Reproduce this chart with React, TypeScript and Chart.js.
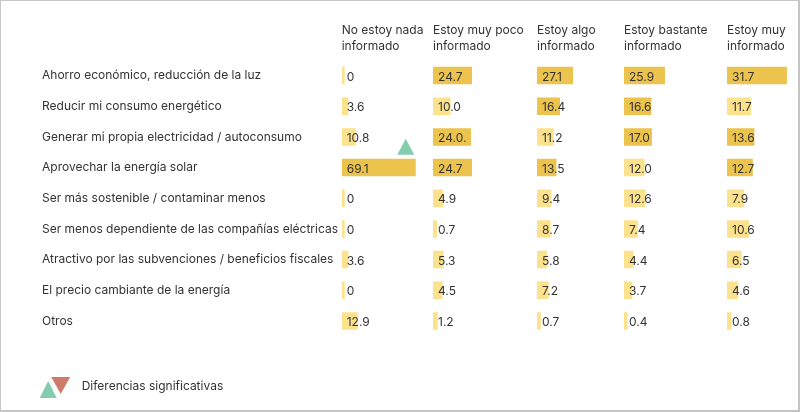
import React, { useEffect, useRef } from 'react';
import { Chart, registerables } from 'chart.js';

Chart.register(...registerables);

// ---------- DATA ----------
const categories = [
  'Ahorro económico, reducción de la luz',
  'Reducir mi consumo energético',
  'Generar mi propia electricidad / autoconsumo',
  'Aprovechar la energía solar',
  'Ser más sostenible / contaminar menos',
  'Ser menos dependiente de las compañías eléctricas',
  'Atractivo por las subvenciones / beneficios fiscales',
  'El precio cambiante de la energía',
  'Otros',
];

const columnHeaders = [
  ['No estoy nada', 'informado'],
  ['Estoy muy poco', 'informado'],
  ['Estoy algo', 'informado'],
  ['Estoy bastante', 'informado'],
  ['Estoy muy', 'informado'],
];

const noEstoyNadaInformado = [0, 3.6, 10.8, 69.1, 0, 0, 3.6, 0, 12.9];
const estoyMuyPocoInformado = [24.7, 10.0, 24.0, 24.7, 4.9, 0.7, 5.3, 4.5, 1.2];
const estoyAlgoInformado = [27.1, 16.4, 11.2, 13.5, 9.4, 8.7, 5.8, 7.2, 0.7];
const estoyBastanteInformado = [25.9, 16.6, 17.0, 12.0, 12.6, 7.4, 4.4, 3.7, 0.4];
const estoyMuyInformado = [31.7, 11.7, 13.6, 12.7, 7.9, 10.6, 6.5, 4.6, 0.8];

// highlighted (darker) cells per column
const highlightNoNada = [false, false, false, true, false, false, false, false, false];
const highlightMuyPoco = [true, false, true, true, false, false, false, false, false];
const highlightAlgo = [true, true, false, true, false, false, false, false, false];
const highlightBastante = [true, true, true, false, false, false, false, false, false];
const highlightMuy = [true, false, true, true, false, false, false, false, false];

// label text exactly as printed where it differs from the number
const labelOverrides: Record<string, string> = { '1-2': '24.0.' };

// significance markers (column index, row index, direction)
const significanceMarkers = [{ column: 0, row: 3, direction: 'up' }];
const legendText = 'Diferencias significativas';

// per-column scale settings
const scaleMins = [-2.92, -2.06, -2.46, -2.04, -1.67];
const scaleMaxs = [85.9, 69.3, 68.96, 68.2, 36.2];
const columnWeights = [91.3, 104, 87, 103, 68];

const columnValues = [
  noEstoyNadaInformado,
  estoyMuyPocoInformado,
  estoyAlgoInformado,
  estoyBastanteInformado,
  estoyMuyInformado,
];
const columnHighlights = [highlightNoNada, highlightMuyPoco, highlightAlgo, highlightBastante, highlightMuy];

// ---------- STYLE ----------
const FONT = 'Inter, "Noto Sans", sans-serif';
const TEXT = '#333333';
const DARK = '#EBC34D';
const LIGHT = '#FDE28E';
const GREEN = '#82CEAC';
const RED = '#CF7B6C';

function fmt(v: number, c: number, r: number) {
  const key = `${c}-${r}`;
  if (labelOverrides[key]) return labelOverrides[key];
  return v === 0 ? '0' : v.toFixed(1);
}

function triangle(ctx: CanvasRenderingContext2D, cx: number, baseY: number, w: number, h: number, up: boolean, color: string) {
  ctx.beginPath();
  ctx.moveTo(cx - w / 2, baseY);
  ctx.lineTo(cx + w / 2, baseY);
  ctx.lineTo(cx, up ? baseY - h : baseY + h);
  ctx.closePath();
  ctx.fillStyle = color;
  ctx.fill();
}

const overlayPlugin = {
  id: 'overlay',
  afterDatasetsDraw(chart: any) {
    const ctx: CanvasRenderingContext2D = chart.ctx;
    ctx.save();
    ctx.font = `12px ${FONT}`;
    ctx.textAlign = 'left';
    ctx.textBaseline = 'middle';
    columnValues.forEach((vals, c) => {
      const meta = chart.getDatasetMeta(c);
      meta.data.forEach((bar: any, r: number) => {
        const left = Math.min(bar.base, bar.x);
        ctx.fillStyle = TEXT;
        ctx.fillText(fmt(vals[r], c, r), left + 5, bar.y + 1.5);
      });
    });
    // significance markers
    significanceMarkers.forEach((m) => {
      const bar: any = chart.getDatasetMeta(m.column).data[m.row];
      const top = bar.y - bar.height / 2;
      const up = m.direction === 'up';
      triangle(ctx, bar.x - 10, top - 4, 17, 16, up, up ? GREEN : RED);
    });
    // legend
    const lx = chart.chartArea.left - 300;
    const ly = 386;
    triangle(ctx, lx + 6.5, ly + 12, 17, 17, true, GREEN);
    triangle(ctx, lx + 19, ly - 9, 19, 17, false, RED);
    ctx.fillStyle = TEXT;
    ctx.font = `12px ${FONT}`;
    ctx.textBaseline = 'middle';
    ctx.fillText(legendText, lx + 40, ly);
    ctx.restore();
  },
};

export default function App() {
  const canvasRef = useRef<HTMLCanvasElement | null>(null);

  useEffect(() => {
    document.body.style.margin = '0';
    const canvas = canvasRef.current;
    if (!canvas) return;

    const datasets = columnValues.map((vals, c) => ({
      label: columnHeaders[c].join(' '),
      data: vals,
      xAxisID: `x${c}`,
      base: scaleMins[c],
      grouped: false,
      backgroundColor: columnHighlights[c].map((h) => (h ? DARK : LIGHT)),
      borderWidth: 0,
      categoryPercentage: 1,
      barPercentage: 0.57,
    }));

    const scales: any = {
      y: {
        type: 'category',
        position: 'left',
        grid: { display: false, drawTicks: false },
        border: { display: false },
        ticks: {
          crossAlign: 'far',
          padding: 0,
          color: TEXT,
          font: { family: FONT, size: 12 },
        },
        afterFit: (s: any) => {
          s.width = 299.7;
        },
      },
    };
    columnValues.forEach((_, c) => {
      scales[`x${c}`] = {
        type: 'linear',
        axis: 'x',
        position: 'top',
        stack: 'columns',
        stackWeight: columnWeights[c],
        weight: columnValues.length - c,
        min: scaleMins[c],
        max: scaleMaxs[c],
        grid: { display: false, drawTicks: false },
        border: { display: false },
        ticks: { display: false },
        title: {
          display: true,
          text: columnHeaders[c],
          align: 'start',
          color: TEXT,
          font: { family: FONT, size: 12, lineHeight: 16 / 12 },
          padding: { top: 8, bottom: 6.2 },
        },
      };
    });

    const chart = new Chart(canvas, {
      type: 'bar',
      data: { labels: categories, datasets },
      options: {
        indexAxis: 'y',
        animation: false,
        responsive: false,
        maintainAspectRatio: false,
        layout: { padding: { left: 42, right: 5, top: 14, bottom: 75.7 } },
        plugins: { legend: { display: false }, tooltip: { enabled: false } },
        scales,
      },
      plugins: [overlayPlugin],
    } as any);

    return () => chart.destroy();
  }, []);

  return (
    <div style={{ position: 'relative', width: 800, height: 412, background: '#fff' }}>
      <canvas ref={canvasRef} width={800} height={412} style={{ display: 'block', width: 800, height: 412 }} />
      <div
        style={{
          position: 'absolute',
          inset: 0,
          boxSizing: 'border-box',
          borderTop: '1px solid #c8c8c8',
          borderLeft: '1px solid #c8c8c8',
          borderRight: '2px solid #c4c4c4',
          borderBottom: '2px solid #c4c4c4',
          pointerEvents: 'none',
        }}
      />
    </div>
  );
}
